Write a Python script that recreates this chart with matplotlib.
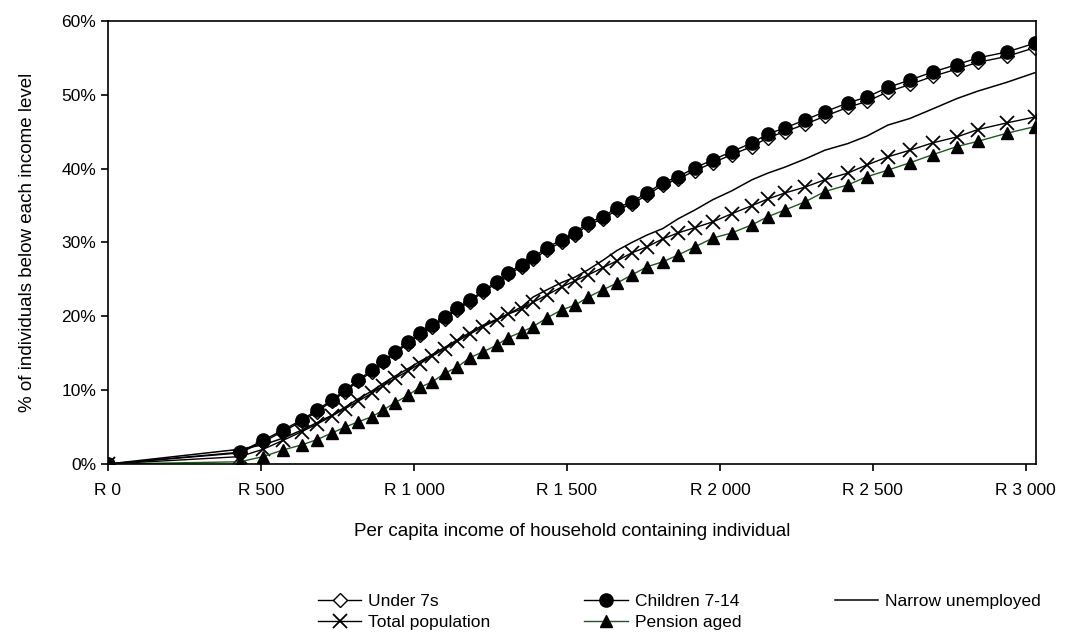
import matplotlib.pyplot as plt
from matplotlib.ticker import FixedLocator, FuncFormatter

plt.rcParams['font.family'] = ['Liberation Sans', 'DejaVu Sans']

# per capita household income (rand) at each point of the cumulative curves
income = [0, 431, 507, 572, 634, 683, 732, 775, 817, 863, 899, 938, 980, 1020,
          1059, 1101, 1141, 1183, 1226, 1271, 1307, 1353, 1389, 1435, 1484,
          1526, 1569, 1618, 1663, 1712, 1761, 1814, 1863, 1918, 1977, 2039,
          2105, 2157, 2212, 2278, 2343, 2418, 2480, 2549, 2621, 2696, 2775,
          2843, 2938, 3030]

# % of each group living below the income level
children = [0, 1.6, 3.2, 4.6, 6.0, 7.3, 8.7, 10.0, 11.4, 12.7, 14.0, 15.2,
            16.5, 17.7, 18.8, 19.9, 21.1, 22.2, 23.5, 24.7, 25.9, 27.0, 28.0,
            29.3, 30.4, 31.3, 32.7, 33.5, 34.7, 35.5, 36.7, 38.1, 38.9, 40.1,
            41.2, 42.3, 43.5, 44.7, 45.5, 46.6, 47.7, 48.9, 49.7, 51.0, 52.0,
            53.1, 54.1, 55.0, 55.8, 57.0]
under7 = [0, 1.5, 3.0, 4.4, 5.8, 7.1, 8.5, 9.8, 11.2, 12.5, 13.8, 15.0,
          16.3, 17.5, 18.6, 19.7, 20.9, 22.0, 23.3, 24.5, 25.7, 26.7, 27.7,
          29.0, 30.1, 31.0, 32.4, 33.2, 34.4, 35.2, 36.4, 37.8, 38.6, 39.7,
          40.8, 41.9, 43.0, 44.2, 45.0, 46.0, 47.1, 48.3, 49.1, 50.4, 51.4,
          52.5, 53.5, 54.4, 55.2, 56.4]
narrow = [0, 2.0, 2.6, 3.5, 4.6, 5.6, 6.6, 7.7, 8.8, 9.9, 10.9, 11.9, 12.9,
          13.9, 14.8, 15.8, 16.8, 17.8, 18.8, 19.6, 20.3, 21.3, 22.6, 23.6,
          24.6, 25.3, 26.3, 27.6, 28.9, 30.0, 31.0, 31.9, 33.2, 34.4, 35.8,
          37.0, 38.5, 39.4, 40.2, 41.3, 42.5, 43.4, 44.4, 45.9, 46.8, 48.1,
          49.5, 50.5, 51.7, 53.0]
total = [0, 1.0, 2.0, 3.2, 4.4, 5.4, 6.5, 7.5, 8.5, 9.6, 10.6, 11.6, 12.6,
         13.6, 14.6, 15.6, 16.6, 17.6, 18.6, 19.5, 20.3, 21.0, 21.9, 22.9,
         24.0, 24.8, 25.6, 26.6, 27.5, 28.6, 29.4, 30.5, 31.3, 32.0, 32.8,
         33.9, 35.0, 35.9, 36.7, 37.5, 38.5, 39.4, 40.5, 41.6, 42.5, 43.5,
         44.3, 45.3, 46.2, 47.0]
pension = [0, 0.3, 1.0, 1.9, 2.6, 3.3, 4.2, 5.0, 5.7, 6.4, 7.3, 8.3, 9.3,
           10.4, 11.1, 12.3, 13.1, 14.4, 15.2, 16.1, 17.1, 17.9, 18.6, 19.8,
           20.9, 21.5, 22.6, 23.6, 24.5, 25.6, 26.7, 27.4, 28.3, 29.4, 30.6,
           31.3, 32.4, 33.5, 34.4, 35.5, 36.9, 37.8, 38.9, 39.8, 40.8, 41.9,
           43.0, 43.7, 44.8, 45.7]

x_ticks = [0, 500, 1000, 1500, 2000, 2500, 3000]
y_ticks = [0, 10, 20, 30, 40, 50, 60]

fig = plt.figure(figsize=(10.67, 6.32), dpi=100)
ax = fig.add_axes([0.1012, 0.2658, 0.8697, 0.701])

l_u7, = ax.plot(income, under7, color='black', lw=1.0, marker='D', ms=7,
                mfc='white', mec='black', mew=1.0, label='Under 7s')
l_ch, = ax.plot(income, children, color='black', lw=1.0, marker='o', ms=9.5,
                mfc='black', mec='black', label='Children 7-14')
l_nu, = ax.plot(income, narrow, color='black', lw=1.1,
                label='Narrow unemployed')
l_tp, = ax.plot(income, total, color='black', lw=1.0, marker='x', ms=10,
                mew=1.3, label='Total population')
l_pa, = ax.plot(income, pension, color='#1e5a1e', lw=1.0, marker='^', ms=8.5,
                mfc='black', mec='black', label='Pension aged')

ax.set_xlim(0, 3033)
ax.set_ylim(0, 60)
ax.xaxis.set_major_locator(FixedLocator(x_ticks))
ax.yaxis.set_major_locator(FixedLocator(y_ticks))
ax.xaxis.set_major_formatter(FuncFormatter(
    lambda v, p: 'R ' + f'{int(v):,}'.replace(',', ' ')))
ax.yaxis.set_major_formatter(FuncFormatter(lambda v, p: f'{int(v)}%'))
ax.tick_params(axis='both', direction='out', length=5, width=1.2,
               labelsize=12.5, colors='black')
ax.tick_params(axis='x', pad=9)
for sp in ax.spines.values():
    sp.set_linewidth(1.2)
    sp.set_color('black')

ax.set_xlabel('Per capita income of household containing individual',
              fontsize=13.5, labelpad=18)
ax.set_ylabel('% of individuals below each income level', fontsize=13.5,
              labelpad=18)

# legend fills column by column, so order handles to read row by row
handles = [l_u7, l_tp, l_ch, l_pa, l_nu]
fig.legend(handles, [h.get_label() for h in handles], ncol=3,
           loc='upper left', bbox_to_anchor=(0.298, 0.06), frameon=False,
           fontsize=12.5, handlelength=2.5, columnspacing=5.4,
           labelspacing=0.3, handletextpad=0.4, borderpad=0.0,
           borderaxespad=0.0)

fig.savefig('out.png', dpi=100)
